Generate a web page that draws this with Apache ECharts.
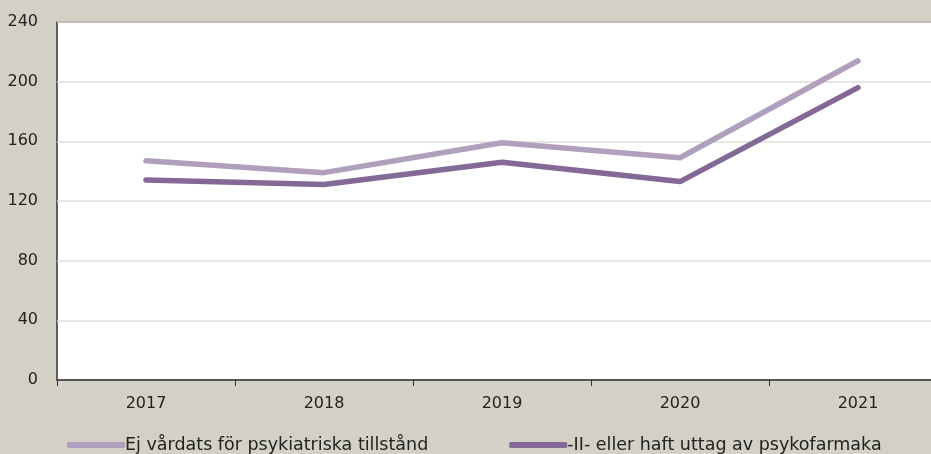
<!DOCTYPE html>
<html>
<head>
<meta charset="utf-8">
<script src="https://cdn.jsdelivr.net/npm/echarts@6/dist/echarts.min.js"></script>
<style>
  html, body { margin: 0; padding: 0; background: #d3d1c5; }
  #chart { width: 931px; height: 454px; }
</style>
</head>
<body>
<div id="chart"></div>
<script>
// data
const years = ["2017", "2018", "2019", "2020", "2021"];
const ejVardats = [147, 139, 159, 149, 214];
const uttag = [134, 131, 146, 133, 196];
const names = ["Ej vårdats för psykiatriska tillstånd", "-II- eller haft uttag av psykofarmaka"];

const font = "DejaVu Sans";
let chart = echarts.init(document.getElementById("chart"));

chart.setOption({
  backgroundColor: "#d3d1c5",
  animation: false,
  textStyle: { fontFamily: font },
  grid: {
    left: 57, top: 22, height: 358, width: 890,
    outerBoundsMode: "none",
    show: true, backgroundColor: "#fff",
    borderColor: "#333", borderWidth: 1.5
  },
  legend: {
    left: 67, top: 436, padding: 0,
    itemWidth: 58, itemHeight: 6, itemGap: 81,
    icon: "roundRect",
    textStyle: { fontSize: 17.5, color: "#222", padding: [0, 0, 0, -5] },
    data: names
  },
  xAxis: {
    type: "category",
    data: years,
    boundaryGap: true,
    axisLine: { lineStyle: { color: "#333", width: 1.5 } },
    axisTick: { show: true, length: 6, lineStyle: { color: "#333" } },
    axisLabel: { fontSize: 16, color: "#222", margin: 16 }
  },
  yAxis: {
    type: "value",
    min: 0, max: 240, interval: 40,
    axisLine: { show: false },
    axisTick: { show: false },
    axisLabel: { fontSize: 16, color: "#222", margin: 19 },
    splitLine: { lineStyle: { color: "#e0ded6", width: 1.5 } }
  },
  series: [
    {
      name: names[0], type: "line", data: ejVardats,
      symbol: "none", color: "#b09fbd",
      lineStyle: { width: 5.5, cap: "round", join: "round" }
    },
    {
      name: names[1], type: "line", data: uttag,
      symbol: "none", color: "#846997",
      lineStyle: { width: 5.5, cap: "round", join: "round" }
    }
  ]
});
</script>
</body>
</html>
